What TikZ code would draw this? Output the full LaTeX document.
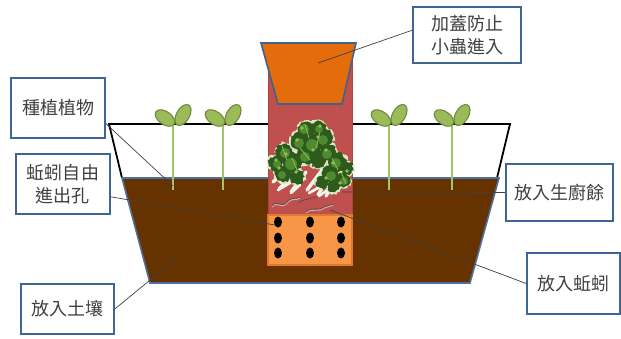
\documentclass[tikz,border=0pt]{standalone}
\usepackage{fontspec}
\newfontfamily\cjk{Noto Sans CJK TC}
\usetikzlibrary{calc,decorations.pathmorphing}

\definecolor{boxblue}{HTML}{3F6496}
\definecolor{textgray}{HTML}{404040}
\definecolor{soilbrown}{HTML}{663300}
\definecolor{soilline}{HTML}{4F6FA0}
\definecolor{tubered}{HTML}{C0504D}
\definecolor{tubeline}{HTML}{A94441}
\definecolor{baseorange}{HTML}{F79646}
\definecolor{baseedge}{HTML}{E0782F}
\definecolor{lidorange}{HTML}{E46C0A}
\definecolor{lidline}{HTML}{41628F}
\definecolor{leafgreen}{HTML}{9BBB59}
\definecolor{leafline}{HTML}{71893F}
\definecolor{stemgreen}{HTML}{A4C466}
\definecolor{lettucefringe}{HTML}{DCE8C8}
\definecolor{lettucedark}{HTML}{2E5A1D}
\definecolor{lettucemid}{HTML}{4F8A2E}
\definecolor{lettucelight}{HTML}{8DBF52}
\definecolor{lettucestem}{HTML}{F2F6EA}
\definecolor{wormgray}{HTML}{5E4E4E}
\definecolor{wormpale}{HTML}{D9B0A8}

\tikzset{
  labelbox/.style={draw=boxblue, line width=1.6pt, fill=white, text=textgray,
    font=\cjk\fontsize{18}{23}\selectfont, align=center, inner sep=0pt},
  leader/.style={draw=textgray, line width=0.7pt},
  ragged/.style={decorate, decoration={random steps, segment length=2pt, amplitude=1.3pt}},
  sprout/.pic={
    \draw[stemgreen, line width=1.6pt] (0,-2) -- (0,64);
    \draw[leafline, fill=leafgreen, line width=1.1pt, rotate around={-35:(-8,-8)}]
      (-8,-8) ellipse [x radius=11, y radius=6.5];
    \draw[leafline, fill=leafgreen, line width=1.1pt, rotate around={60:(10,-11)}]
      (10,-11) ellipse [x radius=11.5, y radius=6.5];
  }
}

\begin{document}
\begin{tikzpicture}[x=1pt,y=-1pt]
\useasboundingbox (0,0) rectangle (621,338);
\pgfmathsetseed{11}

% upper rim of the planter
\draw[black, line width=1.8pt, line join=miter]
  (122,178) -- (109,124) -- (510,124) -- (497,178);

% soil body
\draw[soilline, fill=soilbrown, line width=1.6pt]
  (122,178) -- (499,178) -- (470,283) -- (150,283) -- cycle;

% seedlings
\pic at (173,126) {sprout};
\pic at (223,126) {sprout};
\pic at (389,126) {sprout};
\pic at (452,126) {sprout};

% feeding tube
\draw[tubeline, fill=tubered, line width=0.8pt] (268,48) rectangle (352,265);
\draw[baseedge, fill=baseorange, line width=1.5pt] (268,215) rectangle (352,265);
\foreach \cx in {278,310,341}
  \foreach \cy in {222,238,253}
    \fill[black] (\cx,\cy) ellipse [x radius=4, y radius=5.5];

% kitchen scraps: a bunch of leafy greens
% pale stalks underneath
\foreach \ax/\ay/\bx/\by in {300/168/279/189, 306/172/291/192, 296/162/273/182,
    322/170/307/190, 328/178/318/195, 334/182/326/196}
  \draw[lettucestem, line width=3.4pt, line cap=round] (\ax,\ay) -- (\bx,\by);
% leaf lobes, pale rim first
\foreach \px/\py/\r in {306/130/8, 318/128/7, 324/138/9, 300/141/9, 313/143/10,
    328/152/8, 306/155/9, 318/160/8, 284/152/8, 276/163/7, 292/162/10,
    283/174/8, 297/177/7, 337/162/9, 347/168/6, 330/174/8, 343/180/7,
    334/186/6, 322/182/6}
  \fill[lettucefringe, ragged] (\px,\py) ellipse [x radius=\r+1.6, y radius=\r+1.6];
\foreach \px/\py/\r in {306/130/8, 318/128/7, 324/138/9, 300/141/9, 313/143/10,
    328/152/8, 306/155/9, 318/160/8, 284/152/8, 276/163/7, 292/162/10,
    283/174/8, 297/177/7, 337/162/9, 347/168/6, 330/174/8, 343/180/7,
    334/186/6, 322/182/6}
  \fill[lettucedark, ragged] (\px,\py) ellipse [x radius=\r, y radius=\r];
\foreach \px/\py/\r in {304/129/5, 319/129/4, 323/140/5, 299/143/5, 312/145/6,
    327/154/5, 305/157/5, 285/153/5, 291/164/6, 282/175/4, 336/163/5,
    331/176/5, 344/181/4, 277/164/4}
  \fill[lettucemid] (\px,\py) circle (\r);
% veins and highlights
\foreach \ax/\ay/\bx/\by in {305/124/309/138, 320/132/316/148, 300/148/310/160,
    282/146/287/160, 292/158/298/172, 332/158/338/170, 341/172/346/184}
  \draw[lettucelight, line width=0.8pt] (\ax,\ay) -- (\bx,\by);
\foreach \px/\py in {302/128, 318/137, 297/140, 326/150, 286/154, 279/168,
    296/172, 333/163, 347/171, 326/178, 313/150, 320/126, 340/183, 276/160}
  \fill[lettucelight] (\px,\py) circle (1.8);
% stalk ends showing below the leaves
\foreach \ax/\ay/\bx/\by in {290/183/278/190, 300/185/291/193,
    318/188/309/193, 326/191/319/196}
  \draw[lettucestem, line width=2.6pt, line cap=round] (\ax,\ay) -- (\bx,\by);

% worms
\draw[wormpale, line width=1.2pt]
  (272,207) .. controls (277,200) and (281,210) .. (287,203)
            .. controls (292,197) and (296,201) .. (300,198);
\draw[wormgray, line width=0.8pt]
  (272,206) .. controls (277,199) and (281,209) .. (287,202)
            .. controls (292,196) and (296,200) .. (300,197);
\draw[wormgray, line width=0.8pt]
  (298,203) .. controls (305,198) and (310,200) .. (318,196);
\draw[wormpale, line width=1.2pt]
  (306,213) .. controls (312,207) and (318,213) .. (324,208)
            .. controls (327,206) and (330,207) .. (333,205);
\draw[wormgray, line width=0.8pt]
  (306,212) .. controls (312,206) and (318,212) .. (324,207)
            .. controls (327,205) and (330,206) .. (333,204);

% lid
\draw[lidline, fill=lidorange, line width=1.6pt]
  (261,43) -- (356,43) -- (342,104) -- (278,104) -- cycle;

% labels
\node[labelbox, minimum width=94pt, minimum height=60pt] (plant) at (58,108) {種植植物};
\node[labelbox, minimum width=94pt, minimum height=60pt] (hole) at (63,184) {蚯蚓自由\\進出孔};
\node[labelbox, minimum width=93pt, minimum height=50pt] (soil) at (67.5,309) {放入土壤};
\node[labelbox, minimum width=108pt, minimum height=56pt] (lid) at (467,35) {加蓋防止\\小蟲進入};
\node[labelbox, minimum width=107pt, minimum height=57pt] (waste) at (559.5,192.5) {放入生廚餘};
\node[labelbox, minimum width=93pt, minimum height=61pt] (worm) at (573.5,283.5) {放入蚯蚓};

% leader targets
\coordinate (stemfoot) at (173,186);
\coordinate (holedot) at (275,225);
\coordinate (soilpt) at (177,258);
\coordinate (lidpt) at (318,63);
\coordinate (wastept) at (342,192);
\coordinate (wormpt) at (330,210);

\draw[leader] (plant.-18) -- (stemfoot);
\draw[leader] (hole.-15) -- (holedot);
\draw[leader] (soil.east) -- (soilpt);
\draw[leader] (lid.175) -- (lidpt);
\draw[leader] (waste.west) -- (wastept);
\draw[leader] (worm.west) -- (wormpt);
\end{tikzpicture}
\end{document}
